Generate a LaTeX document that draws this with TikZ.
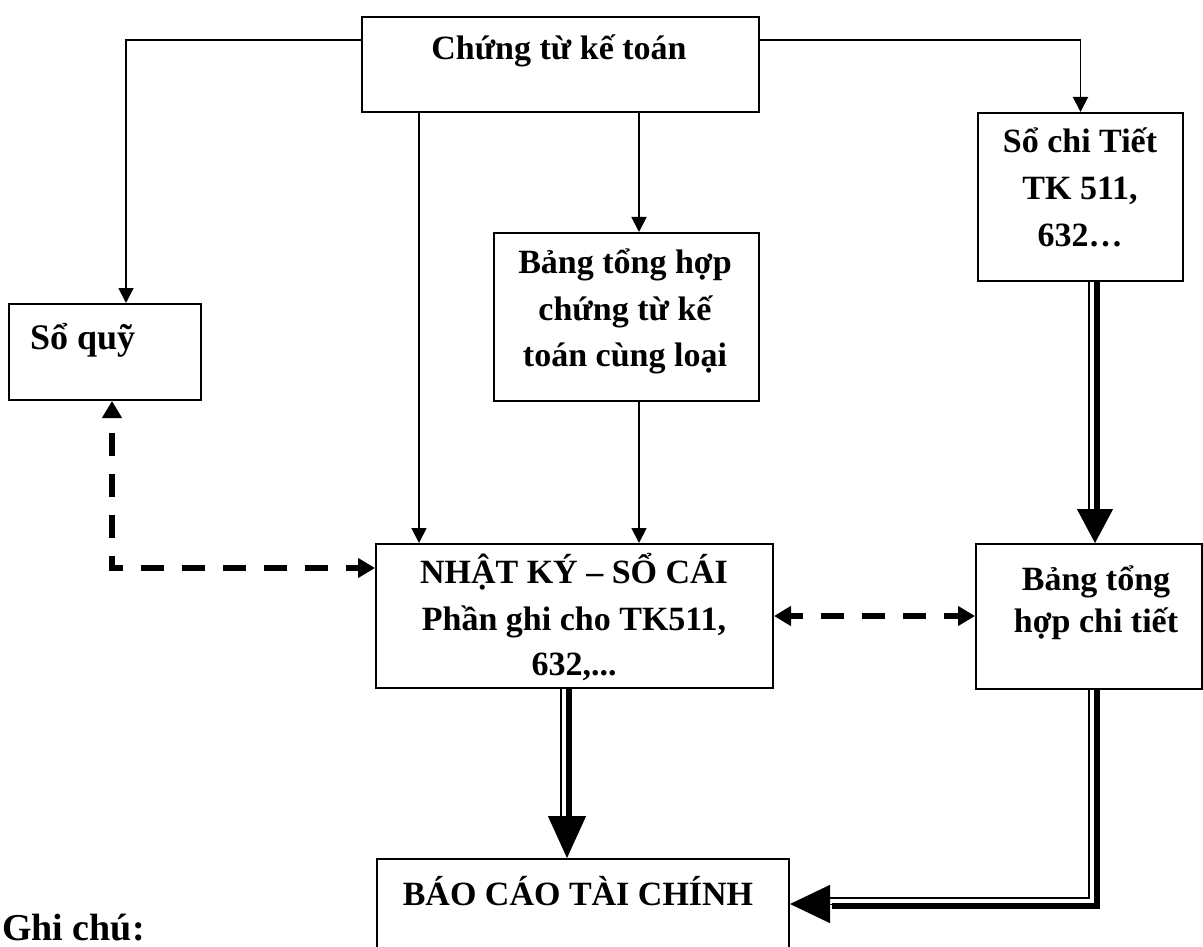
\documentclass[tikz,border=0pt]{standalone}
\usepackage{fontspec}
\setmainfont{Liberation Serif}
\usetikzlibrary{arrows.meta}

\begin{document}
\begin{tikzpicture}[x=1pt,y=-1pt,
  box/.style={draw, line width=2pt, inner sep=0pt, anchor=north west},
  txt/.style={font=\fontsize{34}{46}\selectfont\bfseries, inner sep=0pt, anchor=base},
  link/.style={line width=1.8pt, -{Triangle[width=15pt,length=15pt]}},
  dblthin/.style={line width=2pt},
  dblthick/.style={line width=6.5pt},
  dblcore/.style={line width=1pt},
  dashline/.style={line width=5.5pt, dash pattern=on 23pt off 18pt,
    {Triangle[width=19pt,length=17pt]}-{Triangle[width=19pt,length=17pt]}}
]
\useasboundingbox (0,0) rectangle (1203,947);
\clip (0,0) rectangle (1203,947);

% boxes
\node[box, minimum width=397pt, minimum height=95pt]  (ctkt)   at (361,16)  {};
\node[box, minimum width=192pt, minimum height=96pt]  (soquy)  at (8,303)   {};
\node[box, minimum width=265pt, minimum height=168pt] (bangth) at (493,232) {};
\node[box, minimum width=205pt, minimum height=168pt] (soct)   at (977,112) {};
\node[box, minimum width=397pt, minimum height=144pt] (nhatky) at (375,543) {};
\node[box, minimum width=226pt, minimum height=145pt] (bangct) at (975,543) {};
\node[box, minimum width=412pt, minimum height=110pt] (baocao) at (376,858) {};

% texts
\node[txt] (t-ctkt) at (559,60) {Chứng từ kế toán};
\node[txt, anchor=base west, font=\fontsize{36}{46}\selectfont\bfseries] (t-soquy) at (30,349) {Sổ quỹ};
\node[txt] (t-bth1) at (625,273) {Bảng tổng hợp};
\node[txt] (t-bth2) at (625,320) {chứng từ kế};
\node[txt] (t-bth3) at (625,366) {toán cùng loại};
\node[txt] (t-sct1) at (1080,153) {Sổ chi Tiết};
\node[txt] (t-sct2) at (1080,200) {TK 511,};
\node[txt] (t-sct3) at (1080,247) {632…};
\node[txt] (t-nk1) at (574,583) {NHẬT KÝ – SỔ CÁI};
\node[txt] (t-nk2) at (574,630) {Phần ghi cho TK511,};
\node[txt] (t-nk3) at (574,675) {632,...};
\node[txt] (t-bct1) at (1096,590) {Bảng tổng};
\node[txt] (t-bct2) at (1096,632) {hợp chi tiết};
\node[txt] (t-bc) at (578,905) {BÁO CÁO TÀI CHÍNH};
\node[txt, anchor=base west, font=\fontsize{38}{46}\selectfont\bfseries] (t-ghichu) at (2,940) {Ghi chú:};

% column and row guides for connectors
\coordinate (lcol) at (419,0);
\coordinate (mcol) at (639,0);
\coordinate (ccol) at (567,0);
\coordinate (rcol) at (1095,0);
\coordinate (qcol) at (126,0);
\coordinate (dcol) at (112,0);
\coordinate (drow) at (0,568);
\coordinate (mrow) at (0,616);
\coordinate (brow) at (0,904);

% thin connectors
\draw[link] ([yshift=-24pt]ctkt.north west) -| (soquy.north -| qcol);
\draw[link] ([yshift=-24pt]ctkt.north east) -| (soct.north);
\draw[link] (ctkt.south -| lcol) -- (nhatky.north -| lcol);
\draw[link] (ctkt.south -| mcol) -- (bangth.north -| mcol);
\draw[link] (bangth.south -| mcol) -- (nhatky.north -| mcol);

% double-line arrows (thin + thick strokes with a solid head)
\draw[dblthin, shorten >=34pt, transform canvas={xshift=-6pt}] (soct.south -| rcol) -- (bangct.north -| rcol);
\draw[dblthick, shorten >=34pt, transform canvas={xshift=2pt}] (soct.south -| rcol) -- (bangct.north -| rcol);
\draw[dblcore, -{Triangle[width=36pt,length=34pt]}] (soct.south -| rcol) -- (bangct.north -| rcol);

\draw[dblthin, shorten >=42pt, transform canvas={xshift=-6pt}] (nhatky.south -| ccol) -- (baocao.north -| ccol);
\draw[dblthick, shorten >=42pt, transform canvas={xshift=2pt}] (nhatky.south -| ccol) -- (baocao.north -| ccol);
\draw[dblcore, -{Triangle[width=38pt,length=42pt]}] (nhatky.south -| ccol) -- (baocao.north -| ccol);

\draw[dblthin, shorten <=6pt, shorten >=40pt, transform canvas={shift={(-6pt,6pt)}}] (bangct.south -| rcol) |- (baocao.east |- brow);
\draw[dblthick, shorten <=-2pt, shorten >=40pt, transform canvas={shift={(2pt,-2pt)}}] (bangct.south -| rcol) |- (baocao.east |- brow);
\draw[dblcore, -{Triangle[width=38pt,length=40pt]}] (bangct.south -| rcol) |- (baocao.east |- brow);

% dashed two-way links
\draw[dashline, dash phase=25pt] (soquy.south -| dcol) |- (nhatky.west |- drow);
\draw[dashline, dash phase=10pt] (nhatky.east |- mrow) -- (bangct.west |- mrow);
\end{tikzpicture}
\end{document}
